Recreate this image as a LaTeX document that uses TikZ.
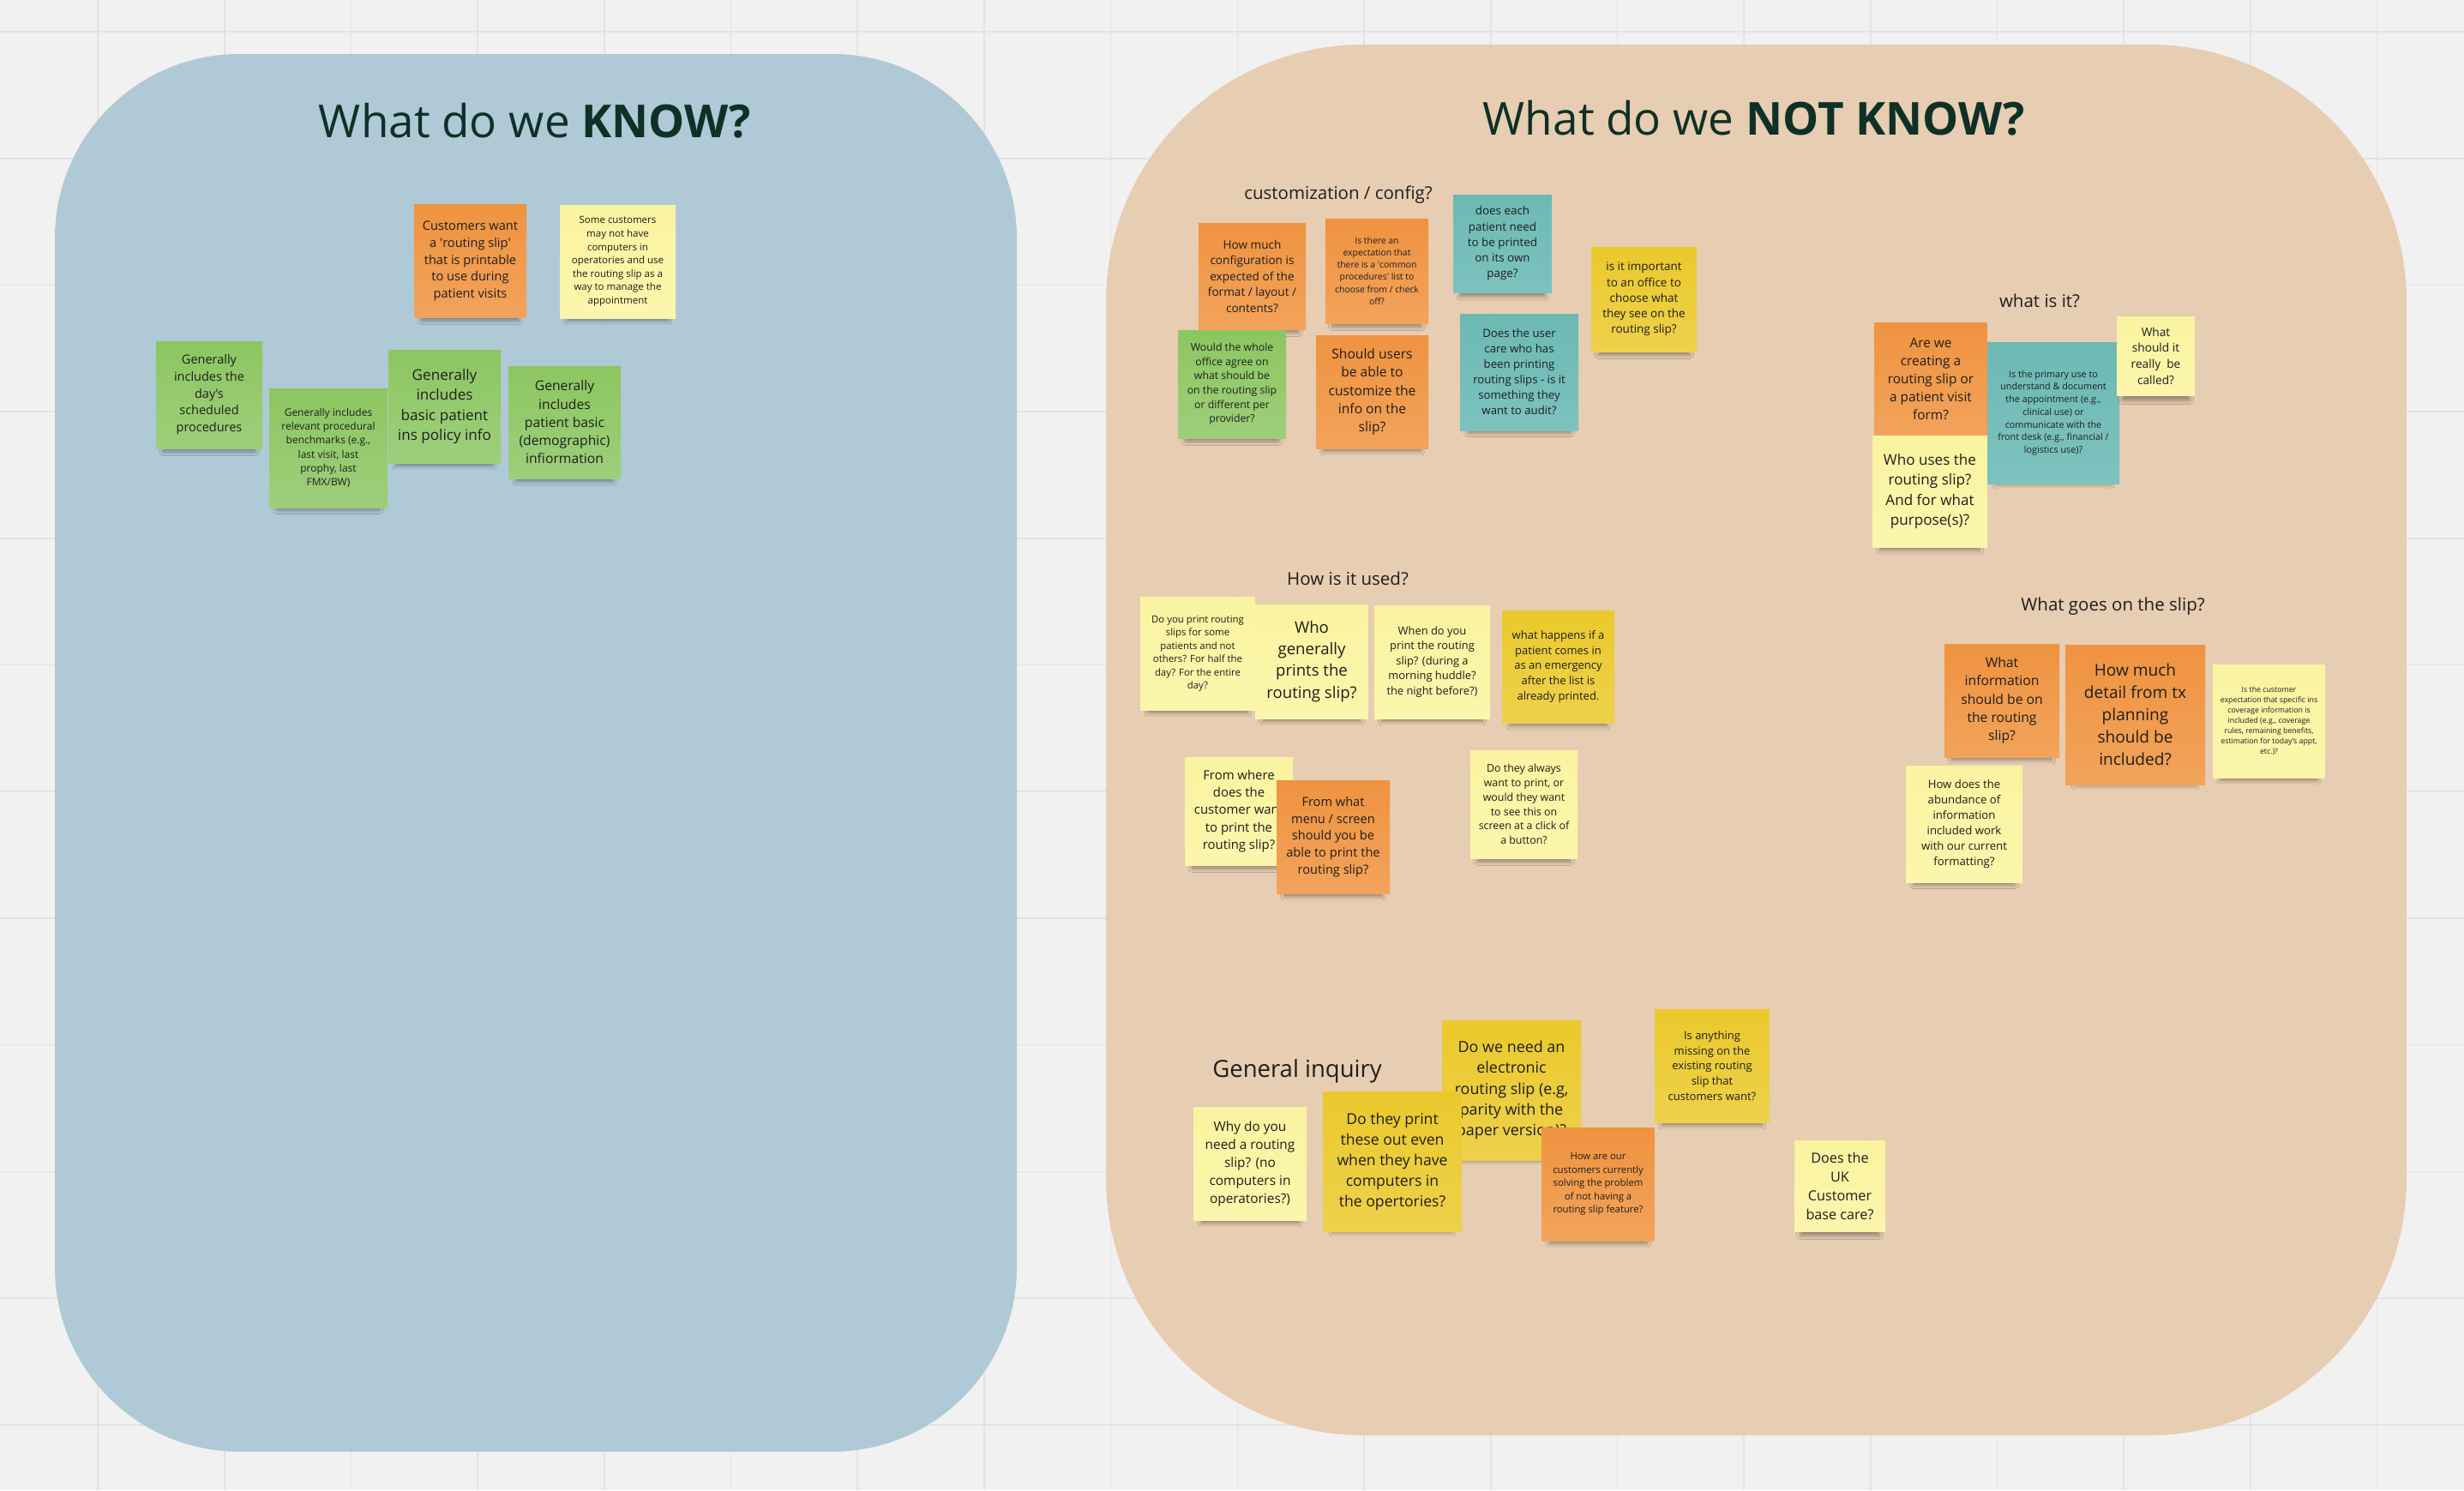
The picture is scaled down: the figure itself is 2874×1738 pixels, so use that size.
\documentclass[tikz,border=0pt]{standalone}
\usepackage{fontspec}
\setmainfont{Open Sans}
\usetikzlibrary{shadows.blur}
\definecolor{board}{HTML}{F1F1F1}
\definecolor{gridgray}{HTML}{E3E3E3}
\definecolor{knowblue}{HTML}{ABC6D4}
\definecolor{unknowntan}{HTML}{E7CBAE}
\definecolor{titlegreen}{HTML}{0F3027}
\definecolor{notetext}{HTML}{1E1E1E}
\definecolor{orangetop}{HTML}{EF9340}
\definecolor{orangebot}{HTML}{F2A35B}
\definecolor{yellowtop}{HTML}{FAF3A0}
\definecolor{yellowbot}{HTML}{FBF6AC}
\definecolor{greentop}{HTML}{8CC660}
\definecolor{greenbot}{HTML}{9DCF7B}
\definecolor{tealtop}{HTML}{6CB9B4}
\definecolor{tealbot}{HTML}{7DC2BE}
\definecolor{goldtop}{HTML}{EBC92C}
\definecolor{goldbot}{HTML}{EDD14B}
\newcommand\stickysize[2]{\fontsize{#1}{#2}\selectfont}

\begin{document}
\begin{tikzpicture}[x=1pt,y=-1pt,
  gridline/.style={draw=gridgray,line width=1.6pt},
  sticky/.style={inner sep=0pt,align=center,text=notetext,minimum width=131pt,minimum height=132pt,
    blur shadow={shadow xshift=0pt,shadow yshift=-14pt,shadow scale=0.87,shadow blur radius=5pt,shadow opacity=35}},
  orangenote/.style={sticky,top color=orangetop,bottom color=orangebot},
  yellownote/.style={sticky,top color=yellowtop,bottom color=yellowbot},
  greennote/.style={sticky,top color=greentop,bottom color=greenbot},
  tealnote/.style={sticky,top color=tealtop,bottom color=tealbot},
  goldnote/.style={sticky,top color=goldtop,bottom color=goldbot},
  grouplabel/.style={anchor=base,text=notetext,font=\stickysize{20.5}{25}},
  boardtitle/.style={anchor=base,text=titlegreen,font=\stickysize{53}{60}}]
  \useasboundingbox (0,0) rectangle (2874,1738);
  \fill[board] (0,0) rectangle (2874,1738);
  \foreach \k in {0,...,18}
    \draw[gridline] ({114+147.7*\k},0) -- ({114+147.7*\k},1738);
  \foreach \k in {0,...,11}
    \draw[gridline] (0,{37+147.7*\k}) -- (2874,{37+147.7*\k});
  \fill[knowblue,fill opacity=0.93,rounded corners=215pt] (64,63) rectangle (1186,1693);
  \fill[unknowntan,fill opacity=0.93,rounded corners=300pt] (1290,52) rectangle (2807,1674);

  \node[boardtitle] (knowtitle) at (624,160) {What do we \textbf{KNOW?}};
  \node[boardtitle] (unknowntitle) at (2046,157) {What do we \textbf{NOT KNOW?}};

  \node[orangenote,font=\stickysize{14.6}{19.8}] (kn_want) at (548.5,304.5) {Customers want\\a \textquotesingle routing slip\textquotesingle\\that is printable\\to use during\\patient visits};
  \node[yellownote,minimum width=135pt,font=\stickysize{11.5}{15.6}] (kn_nocomp) at (720.5,305) {Some customers\\may not have\\computers in\\operatories and use\\the routing slip as a\\way to manage the\\appointment};
  \node[greennote,minimum width=124pt,minimum height=125pt,font=\stickysize{14.5}{19.7}] (kn_sched) at (244,460.5) {Generally\\includes the\\day's\\scheduled\\procedures};
  \node[greennote,minimum width=138pt,minimum height=139pt,font=\stickysize{12}{16.3}] (kn_bench) at (383,522.5) {Generally includes\\relevant procedural\\benchmarks (e.g.,\\last visit, last\\prophy, last\\FMX/BW)};
  \node[greennote,font=\stickysize{17.1}{23.3}] (kn_ins) at (518.5,474) {Generally\\includes\\basic patient\\ins policy info};
  \node[greennote,minimum height=131pt,font=\stickysize{15.7}{21.3}] (kn_demo) at (658.5,492.5) {Generally\\includes\\patient basic\\(demographic)\\infiormation};

  \node[grouplabel] (customlabel) at (1561,232) {customization / config?};
  \node[orangenote,minimum width=125pt,minimum height=124pt,font=\stickysize{13.6}{18.5}] (cu_howmuch) at (1460.5,322) {How much\\configuration is\\expected of the\\format / layout /\\contents?};
  \node[orangenote,minimum width=120pt,minimum height=122pt,font=\stickysize{10.4}{14.2}] (cu_common) at (1606,316) {Is there an\\expectation that\\there is a \textquotesingle common\\procedures\textquotesingle\ list to\\choose from / check\\off?};
  \node[tealnote,minimum width=115pt,minimum height=114pt,font=\stickysize{13.4}{18.25}] (cu_page) at (1752.5,284) {does each\\patient need\\to be printed\\on its own\\page?};
  \node[goldnote,minimum width=123pt,minimum height=122pt,font=\stickysize{13.5}{18.3}] (cu_choose) at (1917.5,349) {is it important\\to an office to\\choose what\\they see on the\\routing slip?};
  \node[greennote,minimum width=126pt,minimum height=126pt,font=\stickysize{12.3}{16.7}] (cu_agree) at (1437,448) {Would the whole\\office agree on\\what should be\\on the routing slip\\or different per\\provider?};
  \node[orangenote,font=\stickysize{15.6}{21.25}] (cu_custom) at (1600.5,457) {Should users\\be able to\\customize the\\info on the\\slip?};
  \node[tealnote,minimum width=138pt,minimum height=136pt,font=\stickysize{13.2}{18}] (cu_audit) at (1772,434) {Does the user\\care who has\\been printing\\routing slips - is it\\something they\\want to audit?};

  \node[grouplabel] (whatlabel) at (2379,358) {what is it?};
  \node[orangenote,font=\stickysize{15.4}{21}] (wi_form) at (2252,442) {Are we\\creating a\\routing slip or\\a patient visit\\form?};
  \node[yellownote,minimum width=134pt,minimum height=130pt,font=\stickysize{17.1}{23.3}] (wi_who) at (2251,573) {Who uses the\\routing slip?\\And for what\\purpose(s)?};
  \node[tealnote,minimum width=154pt,minimum height=165pt,font=\stickysize{10.8}{14.7}] (wi_primary) at (2395,481.5) {Is the primary use to\\understand \& document\\the appointment (e.g.,\\clinical use) or\\communicate with the\\front desk (e.g., financial /\\logistics use)?};
  \node[yellownote,minimum width=91pt,minimum height=92pt,font=\stickysize{13.7}{18.7}] (wi_name) at (2514.5,415) {What\\should it\\really\ \ be\\called?};

  \node[grouplabel] (uselabel) at (1572,682) {How is it used?};
  \node[yellownote,minimum width=134pt,font=\stickysize{11.4}{15.5}] (hu_some) at (1397,762) {Do you print routing\\slips for some\\patients and not\\others? For half the\\day? For the entire\\day?};
  \node[yellownote,minimum height=133pt,font=\stickysize{18.6}{25.3}] (hu_who) at (1530,771.5) {Who\\generally\\prints the\\routing slip?};
  \node[yellownote,minimum width=135pt,font=\stickysize{12.9}{17.6}] (hu_when) at (1670.5,772) {When do you\\print the routing\\slip? (during a\\morning huddle?\\the night before?)};
  \node[goldnote,minimum height=131pt,font=\stickysize{13}{17.75}] (hu_emerg) at (1817.5,777.5) {what happens if a\\patient comes in\\as an emergency\\after the list is\\already printed.};
  \node[yellownote,minimum width=126pt,minimum height=126pt,font=\stickysize{14.9}{20.2}] (hu_where) at (1445,946) {From where\\does the\\customer want\\to print the\\routing slip?};
  \node[orangenote,minimum width=132pt,font=\stickysize{14.6}{19.8}] (hu_menu) at (1555,976) {From what\\menu / screen\\should you be\\able to print the\\routing slip?};
  \node[yellownote,minimum width=125pt,minimum height=126pt,font=\stickysize{12.4}{16.8}] (hu_screen) at (1777.5,938) {Do they always\\want to print, or\\would they want\\to see this on\\screen at a click of\\a button?};

  \node[grouplabel] (sliplabel) at (2464.5,712) {What goes on the slip?};
  \node[orangenote,minimum width=134pt,font=\stickysize{15.7}{21.4}] (sl_info) at (2335,817) {What\\information\\should be on\\the routing\\slip?};
  \node[orangenote,minimum width=163pt,minimum height=163pt,font=\stickysize{19.1}{26}] (sl_detail) at (2490.5,833.5) {How much\\detail from tx\\planning\\should be\\included?};
  \node[yellownote,font=\stickysize{8.8}{12}] (sl_ins) at (2646.5,841) {Is the customer\\expectation that specific ins\\coverage information is\\included (e.g., coverage\\rules, remaining benefits,\\estimation for today's appt,\\etc.)?};
  \node[yellownote,minimum width=136pt,minimum height=136pt,font=\stickysize{13.2}{18}] (sl_format) at (2291,961) {How does the\\abundance of\\information\\included work\\with our current\\formatting?};

  \node[grouplabel,font=\stickysize{27.5}{32}] (generallabel) at (1513,1256) {General inquiry};
  \node[yellownote,font=\stickysize{15.4}{21}] (gi_why) at (1458,1357) {Why do you\\need a routing\\slip? (no\\computers in\\operatories?)};
  \node[goldnote,minimum width=162pt,minimum height=163pt,font=\stickysize{17.9}{24.3}] (gi_elec) at (1763,1271.5) {Do we need an\\electronic\\routing slip (e.g,\\parity with the\\paper version)?};
  \node[goldnote,minimum width=162pt,minimum height=163pt,font=\stickysize{17.6}{24}] (gi_print) at (1624,1354.5) {Do they print\\these out even\\when they have\\computers in\\the opertories?};
  \node[orangenote,font=\stickysize{11.3}{15.4}] (gi_solve) at (1864,1381) {How are our\\customers currently\\solving the problem\\of not having a\\routing slip feature?};
  \node[goldnote,minimum width=134pt,font=\stickysize{13}{17.75}] (gi_missing) at (1997,1243) {Is anything\\missing on the\\existing routing\\slip that\\customers want?};
  \node[yellownote,minimum width=106pt,minimum height=106pt,font=\stickysize{16.2}{22}] (gi_uk) at (2146,1383) {Does the\\UK\\Customer\\base care?};
\end{tikzpicture}
\end{document}
